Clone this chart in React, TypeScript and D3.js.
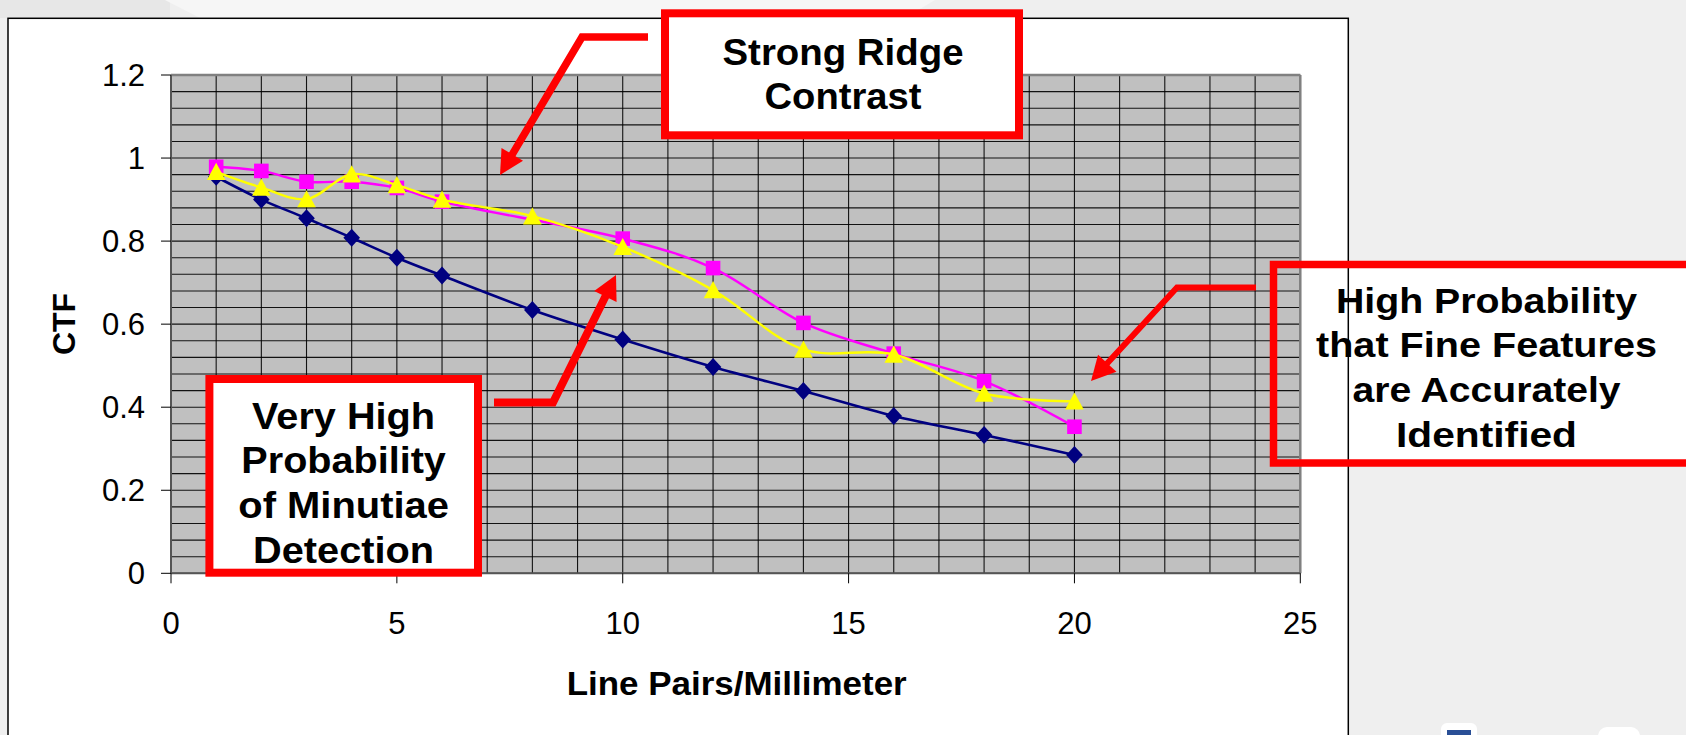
import React, { useEffect } from "react";
import * as d3 from "d3";

// ---------- data ----------
const xNavy = [1, 2, 3, 4, 5, 6, 8, 10, 12, 14, 16, 18, 20];
const yNavy = [0.955, 0.9, 0.855, 0.808, 0.76, 0.717, 0.634, 0.563, 0.497, 0.439, 0.379, 0.333, 0.285];
const xMagenta = [1, 2, 3, 4, 5, 6, 10, 12, 14, 16, 18, 20];
const yMagenta = [0.979, 0.969, 0.943, 0.943, 0.928, 0.895, 0.806, 0.735, 0.603, 0.529, 0.463, 0.353];
const xYellow = [1, 2, 3, 4, 5, 6, 8, 10, 12, 14, 16, 18, 20];
const yYellow = [0.967, 0.929, 0.901, 0.961, 0.935, 0.9, 0.86, 0.786, 0.682, 0.539, 0.527, 0.433, 0.414];

const xTicks = [0, 5, 10, 15, 20, 25];
const yTicks = [0, 0.2, 0.4, 0.6, 0.8, 1.0, 1.2];
const yTickLabels = ["0", "0.2", "0.4", "0.6", "0.8", "1", "1.2"];
const xTitle = "Line Pairs/Millimeter";
const yTitle = "CTF";
const note1 = ["Strong Ridge", "Contrast"];
const note2 = ["Very High", "Probability", "of Minutiae", "Detection"];
const note3 = ["High Probability", "that Fine Features", "are Accurately", "Identified"];

const W = 1686;
const H = 735;
const FONT = "'Liberation Sans', Arial, Helvetica, sans-serif";

const x = d3.scaleLinear().domain([0, 25]).range([171, 1300.3]);
const y = d3.scaleLinear().domain([0, 1.2]).range([573.3, 75]);

const line = d3
  .line<[number, number]>()
  .x((d) => x(d[0]))
  .y((d) => y(d[1]))
  .curve(d3.curveCatmullRom.alpha(0.5));

function zip(xs: number[], ys: number[]): [number, number][] {
  return xs.map((v, i) => [v, ys[i]]);
}

function Arrow({ pts, w }: { pts: [number, number][]; w: number }) {
  const tip = pts[pts.length - 1];
  const prev = pts[pts.length - 2];
  const dx = tip[0] - prev[0];
  const dy = tip[1] - prev[1];
  const len = Math.hypot(dx, dy);
  const ux = dx / len;
  const uy = dy / len;
  const L = 24;
  const HW = 12.5;
  const bx = tip[0] - ux * L;
  const by = tip[1] - uy * L;
  const nx = -uy;
  const ny = ux;
  const shaft = pts.slice(0, -1).concat([[bx + ux * 2, by + uy * 2]]);
  return (
    <g>
      <polyline
        points={shaft.map((p) => p.join(",")).join(" ")}
        fill="none"
        stroke="#ff0000"
        strokeWidth={w}
        strokeLinejoin="miter"
      />
      <polygon
        points={`${tip[0]},${tip[1]} ${bx + nx * HW},${by + ny * HW} ${bx - nx * HW},${by - ny * HW}`}
        fill="#ff0000"
      />
    </g>
  );
}

function NoteText({
  lines,
  cx,
  baselines,
  widths,
  size,
}: {
  lines: string[];
  cx: number;
  baselines: number[];
  widths: number[];
  size: number;
}) {
  return (
    <g>
      {lines.map((t, i) => (
        <text
          key={i}
          x={cx}
          y={baselines[i]}
          textAnchor="middle"
          fontFamily={FONT}
          fontWeight="bold"
          fontSize={size}
          textLength={widths[i]}
          lengthAdjust="spacingAndGlyphs"
          fill="#000"
        >
          {t}
        </text>
      ))}
    </g>
  );
}

export default function App() {
  useEffect(() => {
    document.body.style.margin = "0";
    document.body.style.overflow = "hidden";
  }, []);

  const [x0, x1] = x.range();
  const [yb, yt] = y.range();

  const hGrid = d3.range(0, 31).map((i) => i * 0.04);
  const vGrid = d3.range(0, 26);

  const diamond = (cx: number, cy: number) =>
    `${cx},${cy - 9} ${cx + 8.3},${cy} ${cx},${cy + 9} ${cx - 8.3},${cy}`;
  const triangle = (cx: number, cy: number) =>
    `${cx},${cy - 9} ${cx + 9.3},${cy + 8.2} ${cx - 9.3},${cy + 8.2}`;

  return (
    <svg
      width={W}
      height={H}
      style={{ position: "absolute", left: 0, top: 0, display: "block" }}
      xmlns="http://www.w3.org/2000/svg"
    >
      {/* slide background */}
      <rect x={0} y={0} width={W} height={H} fill="#efefef" />
      <rect x={0} y={0} width={170} height={18} fill="#e7e7e7" />
      <polygon points="165,0 935,0 905,18 200,18" fill="#f6f6f6" />
      {/* small slide icons bottom-right */}
      <rect x={1441} y={723} width={36} height={20} rx={6} fill="#ffffff" />
      <rect x={1447} y={730} width={24} height={10} fill="#2a4f96" />
      <rect x={1598} y={727} width={42} height={20} rx={9} fill="#ffffff" />

      {/* box 3 fill (sits behind chart frame) */}
      <rect x={1273.5} y={264.5} width={440} height={198.5} fill="#ffffff" />

      {/* chart frame */}
      <rect x={8} y={18.3} width={1340.3} height={800} fill="#ffffff" stroke="#000" strokeWidth={1.5} />

      {/* plot area */}
      <rect x={x0} y={yt} width={x1 - x0} height={yb - yt} fill="#c0c0c0" />
      {hGrid.map((v, i) => (
        <line key={"h" + i} x1={x0} x2={x1} y1={y(v)} y2={y(v)} stroke="#000" strokeWidth={1.1} opacity={0.9} />
      ))}
      {vGrid.map((v, i) => (
        <line key={"v" + i} x1={x(v)} x2={x(v)} y1={yt} y2={yb} stroke="#000" strokeWidth={1.1} opacity={0.9} />
      ))}
      <line x1={x0} x2={x1} y1={yt} y2={yt} stroke="#808080" strokeWidth={2.5} />
      <line x1={x1} x2={x1} y1={yt} y2={yb} stroke="#808080" strokeWidth={2.5} />
      <line x1={x0} x2={x0} y1={yt} y2={yb} stroke="#555" strokeWidth={2} />
      <line x1={x0} x2={x1} y1={yb} y2={yb} stroke="#555" strokeWidth={2} />

      {/* ticks */}
      {yTicks.map((v, i) => (
        <g key={"yt" + i}>
          <line x1={x0 - 10} x2={x0} y1={y(v)} y2={y(v)} stroke="#000" strokeWidth={1} />
          <text x={145} y={y(v) + 11} textAnchor="end" fontFamily={FONT} fontSize={31} fill="#000">
            {yTickLabels[i]}
          </text>
        </g>
      ))}
      {xTicks.map((v, i) => (
        <g key={"xt" + i}>
          <line x1={x(v)} x2={x(v)} y1={yb} y2={yb + 10} stroke="#000" strokeWidth={1} />
          <text x={x(v)} y={634} textAnchor="middle" fontFamily={FONT} fontSize={31} fill="#000">
            {String(v)}
          </text>
        </g>
      ))}

      {/* axis titles */}
      <text
        transform={`translate(75,324) rotate(-90)`}
        textAnchor="middle"
        fontFamily={FONT}
        fontWeight="bold"
        fontSize={32}
        fill="#000"
      >
        {yTitle}
      </text>
      <text
        x={736.7}
        y={695}
        textAnchor="middle"
        fontFamily={FONT}
        fontWeight="bold"
        fontSize={34}
        textLength={340}
        lengthAdjust="spacingAndGlyphs"
        fill="#000"
      >
        {xTitle}
      </text>

      {/* series */}
      <path d={line(zip(xNavy, yNavy)) || ""} fill="none" stroke="#000080" strokeWidth={2.6} />
      {zip(xNavy, yNavy).map((d, i) => (
        <polygon key={"n" + i} points={diamond(x(d[0]), y(d[1]))} fill="#000080" />
      ))}
      <path d={line(zip(xMagenta, yMagenta)) || ""} fill="none" stroke="#ff00ff" strokeWidth={2.4} />
      {zip(xMagenta, yMagenta).map((d, i) => (
        <rect key={"m" + i} x={x(d[0]) - 7.3} y={y(d[1]) - 7.3} width={14.6} height={14.6} fill="#ff00ff" />
      ))}
      <path d={line(zip(xYellow, yYellow)) || ""} fill="none" stroke="#ffff00" strokeWidth={2.4} />
      {zip(xYellow, yYellow).map((d, i) => (
        <polygon key={"y" + i} points={triangle(x(d[0]), y(d[1]))} fill="#ffff00" />
      ))}

      {/* annotation boxes */}
      <rect x={665} y={13.3} width={354} height={122} fill="#ffffff" stroke="#ff0000" strokeWidth={8} />
      <NoteText lines={note1} cx={843} baselines={[65, 109.3]} widths={[241, 157]} size={36} />

      <rect x={209.4} y={379} width={268.6} height={193.7} fill="#ffffff" stroke="#ff0000" strokeWidth={8} />
      <NoteText
        lines={note2}
        cx={343.6}
        baselines={[429.3, 473.3, 518.3, 562.7]}
        widths={[183, 204.5, 210.7, 181]}
        size={36}
      />

      <rect x={1273.5} y={264.5} width={440} height={198.5} fill="none" stroke="#ff0000" strokeWidth={7.5} />
      <NoteText
        lines={note3}
        cx={1486.5}
        baselines={[313.3, 357.3, 402.3, 447.3]}
        widths={[301, 341, 268, 181]}
        size={35}
      />

      {/* arrows */}
      <Arrow pts={[[648, 37], [582, 37], [500, 175]]} w={7.5} />
      <Arrow pts={[[494, 402.5], [553, 402.5], [616, 275]]} w={8} />
      <Arrow pts={[[1256, 287.5], [1177, 287.5], [1091, 381]]} w={6} />
    </svg>
  );
}
